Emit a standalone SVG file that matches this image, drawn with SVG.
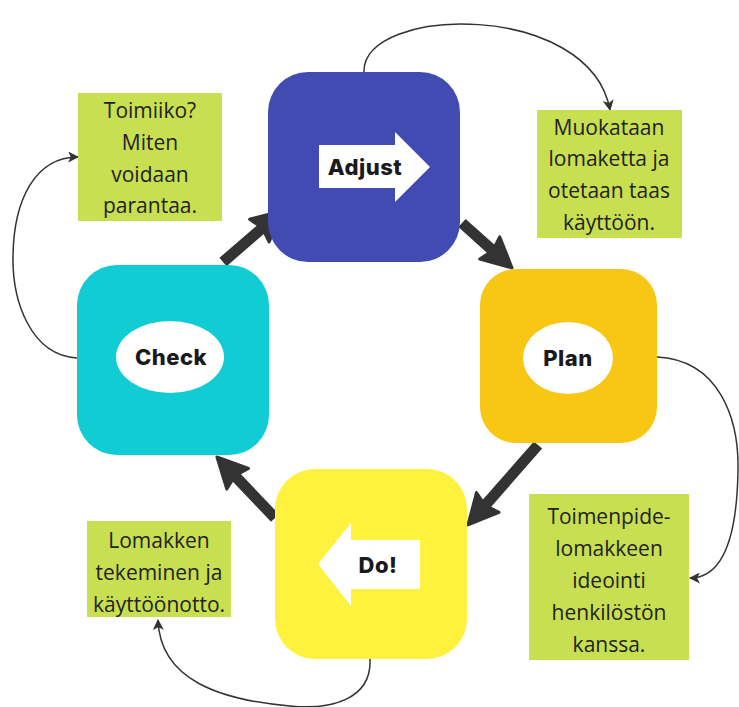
<svg xmlns="http://www.w3.org/2000/svg" width="739" height="707" viewBox="0 0 739 707">
<style>
.lbl{font-family:Inter,"DejaVu Sans",sans-serif;font-weight:800;font-size:22px;letter-spacing:0.5px;fill:#1a1a1a;text-anchor:middle;dominant-baseline:central}
.note{font-family:"Open Sans","Noto Sans",sans-serif;font-size:21px;fill:#222;text-anchor:middle}
.notebox{fill:#c8df52}
.thick{stroke:#333;stroke-width:11;fill:none;marker-end:url(#big)}
.thin{stroke:#333;stroke-width:1.5;fill:none;marker-end:url(#small)}
</style>
<defs>
<marker id="big" viewBox="-10 -18 38 36" refX="0" refY="0" markerWidth="38" markerHeight="36" markerUnits="userSpaceOnUse" orient="auto">
<path d="M-6,-15 L24,0 L-6,15 L-2,0 Z" fill="#333" stroke="#333" stroke-width="3" stroke-linejoin="round"/>
</marker>
<marker id="small" viewBox="0 0 10 10" refX="9" refY="5" markerWidth="11" markerHeight="11" markerUnits="userSpaceOnUse" orient="auto">
<path d="M0,0 L10,5 L0,10 L2.5,5 Z" fill="#333"/>
</marker>
</defs>

<g id="connectors">
<path class="thick" d="M223,262 L263.9,226.7"/>
<path class="thick" d="M462,223 L494.2,251.9"/>
<path class="thick" d="M538,445 L483.8,506.9"/>
<path class="thick" d="M275,518 L233.5,474.4"/>
<path class="thin" d="M364,72 C362,5 590,0 610,110"/>
<path class="thin" d="M657,357 C720,360 739,420 738,470 C737,540 722,578 690,578"/>
<path class="thin" d="M77,358 C30,355 12,300 13,255 C14,200 35,157 78,157"/>
<path class="thin" d="M370,659 C372,700 330,710 290,706 C220,700 160,680 158,620"/>
</g>

<g id="adjust">
<rect x="268" y="72" width="192" height="190" rx="40" fill="#414bb2"/>
<path d="M319,145 H395 V132 L430,167 L395,202 V188 H319 Z" fill="#fff"/>
<text class="lbl" x="365" y="167">Adjust</text>
</g>

<g id="plan">
<rect x="480" y="269" width="177" height="174" rx="36" fill="#f8c714"/>
<ellipse cx="568" cy="358" rx="45" ry="36" fill="#fff"/>
<text class="lbl" x="568" y="358">Plan</text>
</g>

<g id="do">
<rect x="275" y="469" width="192" height="190" rx="40" fill="#fff23e"/>
<path d="M420,540 H351 V523 L318,564 L351,606 V589 H420 Z" fill="#fff"/>
<text class="lbl" x="378" y="565">Do!</text>
</g>

<g id="check">
<rect x="77" y="265" width="192" height="190" rx="40" fill="#12ccd4"/>
<ellipse cx="170" cy="357" rx="54" ry="36" fill="#fff"/>
<text class="lbl" x="171" y="357">Check</text>
</g>

<g id="note-toimiiko">
<rect class="notebox" x="78" y="93" width="144" height="128"/>
<text class="note" x="150" y="118">Toimiiko?</text>
<text class="note" x="150" y="150">Miten</text>
<text class="note" x="150" y="182">voidaan</text>
<text class="note" x="150" y="213">parantaa.</text>
</g>

<g id="note-muokataan">
<rect class="notebox" x="537" y="110" width="145" height="128"/>
<text class="note" x="609" y="135">Muokataan</text>
<text class="note" x="609" y="166">lomaketta ja</text>
<text class="note" x="609" y="198">otetaan taas</text>
<text class="note" x="609" y="230">käyttöön.</text>
</g>

<g id="note-toimenpide">
<rect class="notebox" x="529" y="494" width="160" height="166"/>
<text class="note" x="609" y="524">Toimenpide-</text>
<text class="note" x="609" y="556">lomakkeen</text>
<text class="note" x="609" y="588">ideointi</text>
<text class="note" x="609" y="620">henkilöstön</text>
<text class="note" x="609" y="652">kanssa.</text>
</g>

<g id="note-lomakken">
<rect class="notebox" x="87" y="521" width="144" height="96"/>
<text class="note" x="159" y="548">Lomakken</text>
<text class="note" x="159" y="580">tekeminen ja</text>
<text class="note" x="159" y="612">käyttöönotto.</text>
</g>
</svg>
